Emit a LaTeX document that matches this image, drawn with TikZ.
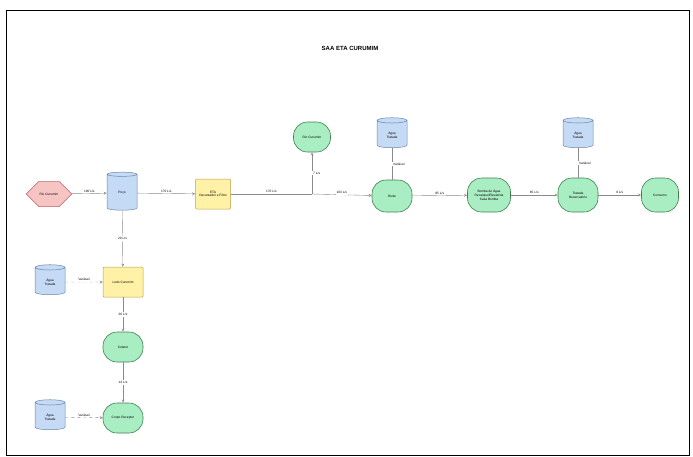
\documentclass[tikz,border=0pt]{standalone}
\usepackage{fontspec}
\setmainfont{Liberation Sans}
\usetikzlibrary{positioning,shapes.geometric,shapes.symbols,arrows}

\definecolor{greenfill}{HTML}{A9EDC2}
\definecolor{greenline}{HTML}{3F7F4F}
\definecolor{yellowfill}{HTML}{FFF1A6}
\definecolor{yellowline}{HTML}{B8A04A}
\definecolor{bluefill}{HTML}{C5DAF5}
\definecolor{blueline}{HTML}{6B86A8}
\definecolor{redfill}{HTML}{F7C4C4}
\definecolor{redline}{HTML}{C06060}
\definecolor{linegray}{HTML}{8A8A8A}

\begin{document}
\begin{tikzpicture}[x=1pt,y=-1pt,
  font=\fontsize{3.2}{3.8}\selectfont, >=stealth,
  proc/.style={draw=yellowline,fill=yellowfill,minimum width=37pt,minimum height=30pt,align=center,rounded corners=1pt,line width=0.5pt},
  term/.style={draw=greenline,fill=greenfill,rounded corners=14pt,minimum width=40pt,minimum height=32pt,align=center,line width=0.6pt},
  tank/.style={cylinder,shape border rotate=90,aspect=0.3,draw=blueline,fill=bluefill,minimum width=30pt,minimum height=30pt,align=center,line width=0.5pt},
  flow/.style={draw=linegray,line width=0.4pt},
  qty/.style={fill=white,inner sep=1pt}]

   \useasboundingbox (0,0) rectangle (693,456);
   \draw[line width=0.6pt] (6,10) rectangle (689,455);

   \node[font=\fontsize{6}{7}\selectfont\bfseries] at (350,48) (title) {SAA ETA CURUMIM};

   % linha principal
   \node[signal,signal to=east and west,draw=redline,fill=redfill,minimum width=37pt,minimum height=25pt,inner sep=1pt,line width=0.5pt] at (49,194) (rio) {Rio Curumim};
   \node[tank,minimum height=38pt] at (122,193) (poco) {Poço};
   \node[proc,minimum width=35pt] at (213,194) (eta) {ETA\\Decantador e Filtro};
   \coordinate (jn) at (312,194);
   \node[term,minimum width=37pt,minimum height=30pt] at (312,137) (perda) {Rio Curumim};
   \node[tank] at (392,135) (resrede) {Água\\Tratada};
   \node[term] at (392,196) (rede) {Rede};
   \node[term,minimum width=43pt,minimum height=34pt] at (489,195) (bomba) {Bomba de Água\\Recalque/Elevatória\\Casa Bomba};
   \node[tank] at (578,135) (resfim) {Água\\Tratada};
   \node[term,minimum height=34pt] at (578,195) (reserv) {Tratada\\Reservatório};
   \node[term,minimum width=37pt,minimum height=34pt] at (660,195) (consumo) {Consumo};

   % ramal do lodo
   \node[proc,minimum width=40pt] at (123,282) (lodo) {Lodo Curumim};
   \node[tank] at (50,282) (reslodo) {Água\\Tratada};
   \node[term,minimum height=30pt] at (123,347) (coleta) {Coletor};
   \node[term,minimum height=30pt] at (123,418) (corpo) {Corpo Receptor};
   \node[tank] at (50,417) (rescorpo) {Água\\Tratada};

   \draw[flow,->] (rio) -- node[above,qty] {190 L/s} (poco);
   \draw[flow,->] (poco) -- node[above,qty] {170 L/s} (eta);
   \draw[flow] (eta) -- node[above,qty] {170 L/s} (jn);
   \draw[flow,->] (jn) -- node[right,qty] {7 L/s} (perda);
   \draw[flow,->] (jn) -- node[above,qty] {163 L/s} (rede);
   \draw[flow] (resrede) -- node[right,qty] {Variável} (rede);
   \draw[flow,->] (rede) -- node[above,qty] {85 L/s} (bomba);
   \draw[flow,->] (bomba) -- node[above,qty] {85 L/s} (reserv);
   \draw[flow] (resfim) -- node[right,qty] {Variável} (reserv);
   \draw[flow,->] (reserv) -- node[above,qty] {8 L/s} (consumo);

   \draw[flow,->] (poco) -- node[qty] {20 L/s} (lodo);
   \draw[flow,dashed,->] (reslodo) -- node[above,qty] {Variável} (lodo);
   \draw[flow,->] (lodo) -- node[qty] {20 L/s} (coleta);
   \draw[flow,->] (coleta) -- node[qty] {14 L/s} (corpo);
   \draw[flow,dashed,->] (rescorpo) -- node[above,qty] {Variável} (corpo);
\end{tikzpicture}
\end{document}
